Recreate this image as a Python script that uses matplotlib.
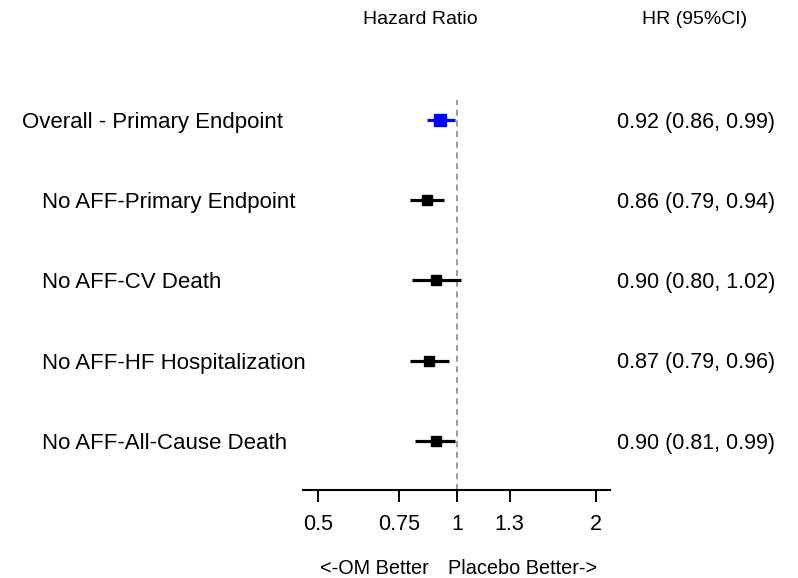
import numpy as np
import matplotlib
matplotlib.use("Agg")
import matplotlib.pyplot as plt
from matplotlib import transforms

plt.rcParams['font.family'] = ['Liberation Sans', 'DejaVu Sans']

# Subgroup results
labels = ["Overall - Primary Endpoint",
          "No AFF-Primary Endpoint",
          "No AFF-CV Death",
          "No AFF-HF Hospitalization",
          "No AFF-All-Cause Death"]
hr = [0.92, 0.86, 0.90, 0.87, 0.90]
lo = [0.86, 0.79, 0.80, 0.79, 0.81]
hi = [0.99, 0.94, 1.02, 0.96, 0.99]
indent = [0, 1, 1, 1, 1]
colors = ["#0000ff", "black", "black", "black", "black"]
tick_vals = [0.5, 0.75, 1, 1.3, 2]
tick_labels = ["0.5", "0.75", "1", "1.3", "2"]

W, H = 798, 578
fig = plt.figure(figsize=(W / 100, H / 100), dpi=100)

# forest panel in pixel geometry
ax_l, ax_r, ax_b, ax_t = 303, 610, 490, 100
ax = fig.add_axes([ax_l / W, 1 - ax_b / H, (ax_r - ax_l) / W, (ax_b - ax_t) / H])
ax.set_xscale("log")
ax.set_xlim(0.4645, 2.145)
n = len(labels)
ypos = np.arange(n, 0, -1)
ax.set_ylim(0.389, 5.249)

for sp in ["top", "right", "left"]:
    ax.spines[sp].set_visible(False)
ax.spines["bottom"].set_linewidth(1.5)
ax.set_yticks([])
ax.xaxis.set_minor_locator(matplotlib.ticker.NullLocator())
ax.set_xticks(tick_vals)
ax.set_xticklabels(tick_labels)
ax.tick_params(axis="x", length=8.6, width=1.4, labelsize=15.5, pad=8.5)

ax.axvline(1, color="#808080", lw=1.1, ls=(0, (4, 3)), zorder=1)

for i in range(n):
    y = ypos[i]
    ax.plot([lo[i], hi[i]], [y, y], color=colors[i], lw=2.3, solid_capstyle="butt", zorder=3)
    ms = 8.3 if i == 0 else 6.8
    ax.plot(hr[i], y, marker="s", ms=ms, color=colors[i], mec=colors[i], zorder=4)

# row labels and estimate column
trans_lab = transforms.blended_transform_factory(fig.transFigure, ax.transData)
for i in range(n):
    y = ypos[i]
    fs = 16
    tr = transforms.offset_copy(trans_lab, fig=fig, y=-0.358 * fs, units="points")
    x0 = (22 + 20 * indent[i]) / W
    fig.text(x0, y, labels[i], fontsize=fs, ha="left", va="baseline", transform=tr)
    fs2 = 15.5
    tr2 = transforms.offset_copy(trans_lab, fig=fig, y=-0.358 * fs2, units="points")
    fig.text(617 / W, y, f"{hr[i]:.2f} ({lo[i]:.2f}, {hi[i]:.2f})", fontsize=fs2,
             ha="left", va="baseline", transform=tr2)

# column headers
fig.text(420 / W, 1 - 24 / H, "Hazard Ratio", fontsize=14, ha="center", va="baseline")
fig.text(695 / W, 1 - 24 / H, "HR (95%CI)", fontsize=14, ha="center", va="baseline")

# direction annotations
fig.text(320 / W, 1 - 574 / H, "<-OM Better", fontsize=14.3, ha="left", va="baseline")
fig.text(448 / W, 1 - 574 / H, "Placebo Better->", fontsize=14.3, ha="left", va="baseline")

fig.savefig("out.png", dpi=100)
